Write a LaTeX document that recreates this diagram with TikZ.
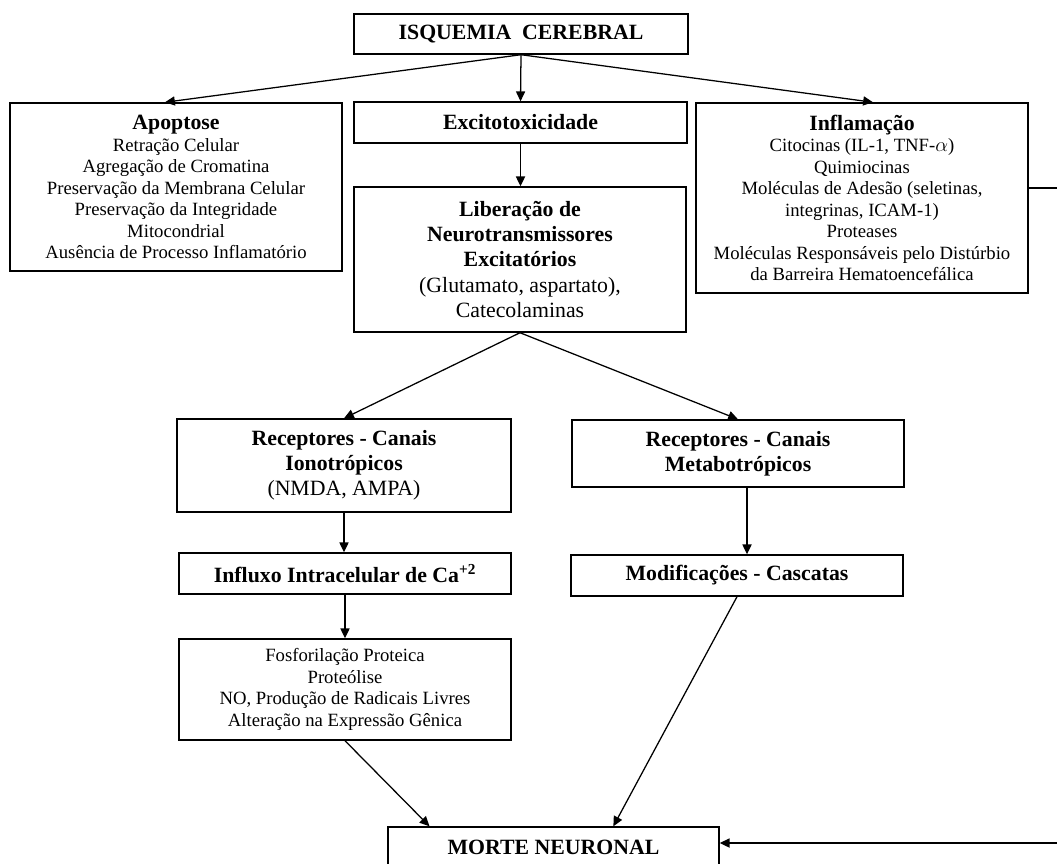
\documentclass[tikz,border=0pt]{standalone}
\usepackage{fontspec}
\setmainfont{Liberation Serif}
\usetikzlibrary{arrows.meta, calc, positioning}

\newcommand{\bigfont}{\fontsize{15.5}{17.8}\selectfont}
\newcommand{\smallfont}{\fontsize{13.3}{15.3}\selectfont}

\begin{document}
\begin{tikzpicture}[
  x=0.025cm, y=-0.025cm,
  box/.style={draw, line width=1pt, inner sep=0pt, align=center,
              font=\bigfont\bfseries},
  listbox/.style={box, font=\smallfont},
  arr/.style={-{Triangle[length=7pt, width=6.5pt]}, line width=0.9pt},
]
  \useasboundingbox (0,0) rectangle (1057,863);
  \clip (0,0) rectangle (1057,863);

  %% ── Isquemia ──
  \node[box, minimum width=8.35cm, minimum height=1cm] (isq) at (521, 34)
    {ISQUEMIA\ \ CEREBRAL};

  %% ── First row ──
  \node[listbox, minimum width=8.3cm, minimum height=4.2cm] (apo) at (176, 187)
    {{\bigfont\bfseries Apoptose}\\ Retração Celular\\ Agregação de Cromatina\\
     Preservação da Membrana Celular\\ Preservação da Integridade\\
     Mitocondrial\\ Ausência de Processo Inflamatório};
  \node[box, minimum width=8.325cm, minimum height=1.025cm] (exc) at (520.5, 122.5)
    {Excitotoxicidade};
  \node[listbox, minimum width=8.3cm, minimum height=4.75cm] (infl) at (862, 198)
    {{\bigfont\bfseries Inflamação}\\ Citocinas (IL-1, TNF-$\alpha$)\\ Quimiocinas\\
     Moléculas de Adesão (seletinas,\\ integrinas, ICAM-1)\\ Proteases\\
     Moléculas Responsáveis pelo Distúrbio\\ da Barreira Hematoencefálica};

  %% ── Liberação ──
  \node[box, minimum width=8.3cm, minimum height=3.625cm] (lib) at (520, 259.5)
    {Liberação de\\ Neurotransmissores\\ Excitatórios\\
     {\mdseries (Glutamato, aspartato),}\\ {\mdseries Catecolaminas}};

  %% ── Receptores ──
  \node[box, minimum width=8.35cm, minimum height=2.325cm] (iono) at (344, 465.5)
    {Receptores - Canais\\ Ionotrópicos\\ {\mdseries (NMDA, AMPA)}};
  \node[box, minimum width=8.3cm, minimum height=1.675cm] (metab) at (738, 453.5)
    {Receptores - Canais\\ Metabotrópicos};

  %% ── Influxo / Modificações ──
  \node[box, minimum width=8.3cm, minimum height=1.025cm] (influx) at (345, 573.5)
    {Influxo Intracelular de Ca\textsuperscript{+2}};
  \node[box, minimum width=8.3cm, minimum height=1.025cm] (modif) at (737, 575.5)
    {Modificações - Cascatas};

  %% ── Fosforilação ──
  \node[listbox, minimum width=8.3cm, minimum height=2.525cm] (fosfo) at (345, 689.5)
    {Fosforilação Proteica\\ Proteólise\\ NO, Produção de Radicais Livres\\
     Alteração na Expressão Gênica};

  %% ── Morte ──
  \node[box, minimum width=8.275cm, minimum height=1.025cm] (morte) at (553.5, 847.5)
    {MORTE NEURONAL};

  %% ═══════ ARROWS ═══════
  \draw[arr] (isq.south) -- ($(apo.north west)!0.467!(apo.north east)$);
  \draw[arr] (isq.south) -- (exc.north);
  \draw[arr] (isq.south) -- ($(infl.north west)!0.533!(infl.north east)$);

  \draw[arr] (exc.south) -- (exc.south |- lib.north);
  \draw[arr] (lib.south) -- (iono.north);
  \draw[arr] (lib.south) -- (metab.north);

  \coordinate (mtb) at ($(metab.south)+(9,0)$);
  \draw[arr] (iono.south) -- (iono.south |- influx.north);
  \draw[arr] (mtb) -- (mtb |- modif.north);
  \draw[arr] (influx.south) -- (influx.south |- fosfo.north);

  \draw[arr] (fosfo.south) -- ($(morte.north west)!0.127!(morte.north east)$);
  \draw[arr] (modif.south) -- ($(morte.north west)!0.68!(morte.north east)$);
  \draw[arr] ($(infl.east)+(0,-10)$) -- ++(60,0) |- ($(morte.east)+(0,-4.5)$);
\end{tikzpicture}
\end{document}
